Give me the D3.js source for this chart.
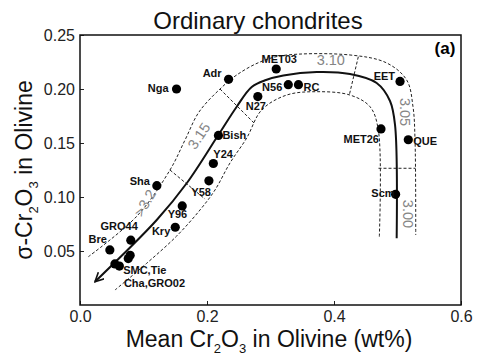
<!DOCTYPE html>
<html lang="en">
<head>
<meta charset="UTF-8" />
<script src="https://d3js.org/d3.v7.min.js"></script>
<title>Ordinary chondrites</title>
<style>
  body { margin: 0; background: #fff; }
  text { font-family: "Liberation Sans", Arial, sans-serif; }
</style>
</head>
<body>
<svg id="chart" width="493" height="361"></svg>
<script>
// meteorite points: mean Cr2O3 vs sigma Cr2O3 (wt%)
var pointNames = ["Nga", "Adr", "MET03", "N56", "RC", "N27", "EET", "MET26", "QUE", "Bish", "Y24",
  "Y58", "Sha", "Y96", "Kry", "GRO44", "Bre", "SMC", "Tie", "Cha", "GRO02", "Scm"];
var meanCr = [0.152, 0.234, 0.309, 0.328, 0.344, 0.280, 0.504, 0.474, 0.517, 0.218, 0.210,
  0.203, 0.121, 0.161, 0.150, 0.080, 0.047, 0.079, 0.076, 0.055, 0.062, 0.497];
var sigmaCr = [0.200, 0.209, 0.2185, 0.204, 0.204, 0.193, 0.207, 0.163, 0.153, 0.157, 0.131,
  0.115, 0.1105, 0.0917, 0.072, 0.060, 0.051, 0.046, 0.043, 0.038, 0.036, 0.1025];
var pointLabels = ["Nga", "Adr", "MET03", "N56", "RC", "N27", "EET", "MET26", "QUE", "Bish", "Y24",
  "Y58", "Sha", "Y96", "Kry", "GRO44", "Bre", "SMC,Tie", "", "Cha,GRO02", "", "Scm"];

// trend curve (solid) and the two band limits (dashed)
var trendX = [0.0236, 0.1208, 0.168, 0.2178, 0.2468, 0.2704, 0.2929, 0.3202, 0.3728, 0.4252, 0.4672, 0.4882, 0.4961, 0.4987];
var trendY = [0.0216, 0.0787, 0.1127, 0.1574, 0.1836, 0.2019, 0.2083, 0.2125, 0.2157, 0.2139, 0.2056, 0.1889, 0.1667, 0.0618];
var outerX = [0.0131, 0.0898, 0.1417, 0.1654, 0.1874, 0.2205, 0.2468, 0.2835, 0.3197, 0.4252, 0.483, 0.5145, 0.5244, 0.5276, 0.5287];
var outerY = [0.0447, 0.0824, 0.125, 0.1528, 0.1787, 0.2, 0.213, 0.225, 0.231, 0.2315, 0.2241, 0.2083, 0.1836, 0.1528, 0.0648];
var innerX = [0.0551, 0.105, 0.1523, 0.189, 0.2126, 0.2362, 0.2625, 0.2861, 0.3255, 0.3728, 0.4252, 0.4567, 0.4698, 0.4713];
var innerY = [0.0139, 0.0386, 0.0639, 0.088, 0.1065, 0.1315, 0.1546, 0.1806, 0.1944, 0.1975, 0.1944, 0.1836, 0.162, 0.0618];

// petrologic type boundaries across the band
var dividerX1 = [0.1417, 0.2205, 0.4383, 0.4701];
var dividerY1 = [0.125, 0.2, 0.2299, 0.1266];
var dividerX2 = [0.1969, 0.2756, 0.4241, 0.5283];
var dividerY2 = [0.0981, 0.1676, 0.1944, 0.1266];

var zoneLabels = ["3.10", "3.05", "3.00", "3.15", ">3.2"];
var zoneX = [0.395, 0.512, 0.517, 0.1874, 0.1024];
var zoneY = [0.2269, 0.1787, 0.0843, 0.1565, 0.0944];

var xTicks = [0, 0.2, 0.4, 0.6];
var yTicks = [0.05, 0.10, 0.15, 0.20, 0.25];

// label placement (px offsets from the point)
var labelPos = {
  "Nga": [-8, 3, "end"], "Adr": [-7, -2, "end"], "MET03": [3, -6, "middle"],
  "N56": [-6, 6, "end"], "RC": [5, 6, "start"], "N27": [-2, 13, "middle"],
  "EET": [-5, -1, "end"], "MET26": [-2, 14, "end"], "QUE": [5, 5, "start"],
  "Bish": [4, 4, "start"], "Y24": [0, -6, "start"], "Y58": [2, 15, "end"],
  "Sha": [-7, -1, "end"], "Y96": [5, 12, "end"], "Kry": [-5, 8, "end"],
  "GRO44": [7, -10, "end"], "Bre": [-3, -7, "end"], "SMC,Tie": [-7, 19, "start"],
  "Cha,GRO02": [9, 23, "start"], "Scm": [-1, 3, "end"]
};
var zoneRot = [0, 90, 90, -56, -60];

var svg = d3.select("#chart");

var x = d3.scaleLinear().domain([0, 0.6]).range([80, 461]);
var y = d3.scaleLinear().domain([0, 0.25]).range([305, 35]);

// arrow head for the trend
svg.append("defs").append("marker")
  .attr("id", "arrow")
  .attr("viewBox", "0 -5 10 10")
  .attr("refX", 9).attr("refY", 0)
  .attr("markerWidth", 10).attr("markerHeight", 10)
  .attr("markerUnits", "userSpaceOnUse")
  .attr("orient", "auto-start-reverse")
  .append("path")
  .attr("d", "M0,-4.5L9,0L0,4.5")
  .attr("fill", "none")
  .attr("stroke", "#111")
  .attr("stroke-width", 1.6);

// axes
var xAxis = svg.append("g")
  .attr("transform", "translate(0,305)")
  .call(d3.axisBottom(x).tickValues(xTicks).tickSize(-4).tickPadding(6).tickFormat(d3.format(".1f")));
var yAxis = svg.append("g")
  .attr("transform", "translate(80,0)")
  .call(d3.axisLeft(y).tickValues(yTicks).tickSize(-4).tickPadding(5).tickFormat(d3.format(".2f")));
[xAxis, yAxis].forEach(function (g) {
  g.select(".domain").remove();
  g.selectAll("text").style("font-size", "16px").attr("fill", "#222")
    .style("font-family", "'Liberation Sans', Arial, sans-serif");
  g.selectAll("line").attr("stroke", "#222");
});

// frame
svg.append("rect")
  .attr("x", x(0)).attr("y", y(0.25))
  .attr("width", x(0.6) - x(0)).attr("height", y(0) - y(0.25))
  .attr("fill", "none").attr("stroke", "#111").attr("stroke-width", 1.5);

var line = d3.line()
  .x(function (d) { return x(d[0]); })
  .y(function (d) { return y(d[1]); })
  .curve(d3.curveCatmullRom.alpha(0.5));

function pairs(xs, ys) { return xs.map(function (v, i) { return [v, ys[i]]; }); }

// band limits
[pairs(outerX, outerY), pairs(innerX, innerY)].forEach(function (pts) {
  svg.append("path")
    .attr("d", line(pts))
    .attr("fill", "none")
    .attr("stroke", "#222")
    .attr("stroke-width", 1)
    .attr("stroke-dasharray", "3,2");
});

// boundaries
svg.append("g").selectAll("line")
  .data(dividerX1)
  .enter()
  .append("line")
  .attr("x1", function (d, i) { return x(dividerX1[i]); })
  .attr("y1", function (d, i) { return y(dividerY1[i]); })
  .attr("x2", function (d, i) { return x(dividerX2[i]); })
  .attr("y2", function (d, i) { return y(dividerY2[i]); })
  .attr("stroke", "#222")
  .attr("stroke-width", 1)
  .attr("stroke-dasharray", "3,2");

// trend
svg.append("path")
  .attr("d", line(pairs(trendX, trendY)))
  .attr("fill", "none")
  .attr("stroke", "#111")
  .attr("stroke-width", 2)
  .attr("marker-start", "url(#arrow)");

// zone labels
svg.append("g").selectAll("text")
  .data(zoneLabels)
  .enter()
  .append("text")
  .attr("transform", function (d, i) {
    return "translate(" + x(zoneX[i]) + "," + y(zoneY[i]) + ") rotate(" + zoneRot[i] + ")";
  })
  .attr("text-anchor", "middle")
  .attr("dominant-baseline", "central")
  .attr("fill", "#858585")
  .style("font-size", "14.5px")
  .text(function (d) { return d; });

// points
svg.append("g").selectAll("circle")
  .data(pointNames)
  .enter()
  .append("circle")
  .attr("cx", function (d, i) { return x(meanCr[i]); })
  .attr("cy", function (d, i) { return y(sigmaCr[i]); })
  .attr("r", 4.6)
  .attr("fill", "#000");

svg.append("g").selectAll("text")
  .data(pointLabels)
  .enter()
  .filter(function (d) { return d !== ""; })
  .append("text")
  .attr("x", function (d) { return x(meanCr[pointLabels.indexOf(d)]) + labelPos[d][0]; })
  .attr("y", function (d) { return y(sigmaCr[pointLabels.indexOf(d)]) + labelPos[d][1]; })
  .attr("text-anchor", function (d) { return labelPos[d][2]; })
  .style("font-size", "11px")
  .style("font-weight", "bold")
  .attr("fill", "#111")
  .text(function (d) { return d; });

svg.append("text")
  .attr("x", 445).attr("y", 54)
  .attr("text-anchor", "middle")
  .style("font-size", "17px").style("font-weight", "bold")
  .text("(a)");

// title and axis titles
svg.append("text")
  .attr("x", 258).attr("y", 29)
  .attr("text-anchor", "middle")
  .style("font-size", "24px")
  .attr("fill", "#111")
  .text("Ordinary chondrites");

var xl = svg.append("text")
  .attr("x", 269).attr("y", 347)
  .attr("text-anchor", "middle")
  .style("font-size", "23px")
  .attr("fill", "#111");
xl.append("tspan").text("Mean Cr");
xl.append("tspan").attr("dy", 6).style("font-size", "13px").text("2");
xl.append("tspan").attr("dy", -6).text("O");
xl.append("tspan").attr("dy", 6).style("font-size", "13px").text("3");
xl.append("tspan").attr("dy", -6).text(" in Olivine (wt%)");

var yl = svg.append("text")
  .attr("transform", "translate(32,170) rotate(-90)")
  .attr("text-anchor", "middle")
  .style("font-size", "23px")
  .attr("fill", "#111");
yl.append("tspan").text("σ-Cr");
yl.append("tspan").attr("dy", 6).style("font-size", "13px").text("2");
yl.append("tspan").attr("dy", -6).text("O");
yl.append("tspan").attr("dy", 6).style("font-size", "13px").text("3");
yl.append("tspan").attr("dy", -6).text(" in Olivine");
</script>
</body>
</html>
